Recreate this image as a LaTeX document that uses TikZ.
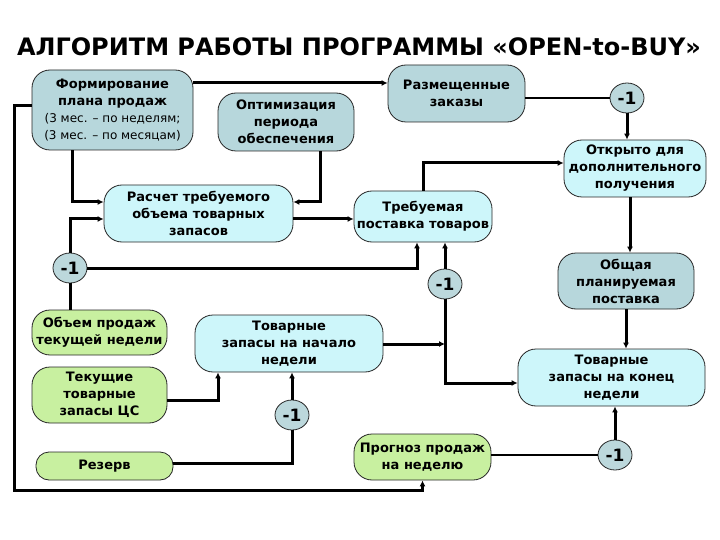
\documentclass[tikz,border=0pt]{standalone}
\usepackage{fontspec}
\setmainfont{DejaVu Sans}
\usetikzlibrary{arrows.meta,shapes.geometric}
\definecolor{darkbox}{HTML}{B7D7DC}
\definecolor{lightbox}{HTML}{CDF6FA}
\definecolor{greenbox}{HTML}{C8F0A0}
\definecolor{circfill}{HTML}{BCD8DC}
\tikzset{
  box/.style={draw=black!85, line width=0.8pt, rounded corners=18pt, align=center,
    inner sep=0pt, font=\bfseries\fontsize{13}{17}\selectfont},
  dbox/.style={box, fill=darkbox},
  lbox/.style={box, fill=lightbox},
  gbox/.style={box, fill=greenbox},
  minus/.style={ellipse, draw=black!85, line width=0.8pt, fill=circfill, inner sep=0pt,
    minimum width=34pt, minimum height=30pt, font=\bfseries\fontsize{17}{17}\selectfont},
  conn/.style={line width=3pt},
  thin/.style={line width=2pt},
  arr/.style={conn, -{Latex[length=6pt,width=6pt]}},
}
\begin{document}
\begin{tikzpicture}[x=1pt,y=-1pt]
\useasboundingbox (0,0) rectangle (720,540);
\node (title) at (359,47) {\fontsize{24}{24}\selectfont\bfseries АЛГОРИТМ РАБОТЫ ПРОГРАММЫ «OPEN-to-BUY»};

\node[dbox, minimum width=161pt, minimum height=80pt] (form) at (112.5,110)
  {Формирование\\плана продаж\\{\mdseries\fontsize{12}{17}\selectfont (3 мес. – по неделям;}\\{\mdseries\fontsize{12}{17}\selectfont (3 мес. – по месяцам)}};
\node[dbox, minimum width=136pt, minimum height=58pt] (opt) at (286,122) {Оптимизация\\периода\\обеспечения};
\node[dbox, minimum width=137pt, minimum height=57pt] (razm) at (456.5,93.5) {Размещенные\\заказы};
\node[minus] (m1a) at (627,98) {-1};
\node[lbox, minimum width=142pt, minimum height=57pt] (otkr) at (635,168.5) {Открыто для\\дополнительного\\получения};
\node[lbox, minimum width=189pt, minimum height=57pt] (rasch) at (198.5,213.5) {Расчет требуемого\\объема товарных\\запасов};
\node[lbox, minimum width=138pt, minimum height=51pt] (treb) at (423,216.5) {Требуемая\\поставка товаров};
\node[minus] (m1b) at (70,268) {-1};
\node[dbox, minimum width=136pt, minimum height=56pt] (obsh) at (626,281) {Общая\\планируемая\\поставка};
\node[minus] (m1c) at (445,284) {-1};
\node[gbox, minimum width=135pt, minimum height=45pt] (obem) at (99.5,332.5) {Объем продаж\\текущей недели};
\node[lbox, minimum width=188pt, minimum height=57pt] (tovn) at (289,343.5) {Товарные\\запасы на начало\\недели};
\node[lbox, minimum width=187pt, minimum height=57pt] (tovk) at (611.5,377.5) {Товарные\\запасы на конец\\недели};
\node[gbox, minimum width=135pt, minimum height=56pt] (tek) at (99.5,395) {Текущие\\товарные\\запасы ЦС};
\node[minus] (m1d) at (292,415) {-1};
\node[gbox, rounded corners=13pt, minimum width=137pt, minimum height=28pt] (rez) at (104.5,466) {Резерв};
\node[gbox, minimum width=137pt, minimum height=46pt] (prog) at (422.5,457) {Прогноз продаж\\на неделю};
\node[minus] (m1e) at (615,455) {-1};

% connectors
\draw[arr] (form.east |- 0,83) -- (razm.west |- 0,83);
\draw[thin] (razm.east |- m1a) -- (m1a);
\draw[arr] (m1a) -- (m1a |- otkr.north);
\draw[arr] (form.west |- 0,106) -| (14,490) -| (prog.south);
\draw[arr] (form.south -| 72,0) |- (rasch.west |- 0,202);
\draw[arr] (m1b) |- (rasch.west |- 0,219);
\draw[arr] (opt.south -| 320,0) |- (rasch.east |- 0,202);
\draw[arr] (rasch.east |- 0,219) -- (treb.west |- 0,219);
\draw[arr] (treb.north) |- (otkr.west |- 0,163);
\draw[arr] (otkr.south -| 630,0) -- (obsh.north -| 630,0);
\draw[arr] (m1b) -| (treb.south -| 417,0);
\draw[conn] (m1b) -- (m1b |- obem.north);
\draw[arr] (tovn.east |- 0,344) -- (m1c |- 0,344);
\draw[arr] (m1c) -- (m1c |- treb.south);
\draw[arr] (m1c) |- (tovk.west |- 0,383);
\draw[arr] (obsh.south) -- (obsh |- tovk.north);
\draw[arr] (tek.east |- 0,400) -| (tovn.south -| 218,0);
\draw[conn] (rez.east |- 0,463) -| (m1d);
\draw[arr] (m1d) -- (m1d |- tovn.south);
\draw[thin] (prog.east |- m1e) -- (m1e);
\draw[arr] (m1e) -- (m1e |- tovk.south);
\end{tikzpicture}
\end{document}
